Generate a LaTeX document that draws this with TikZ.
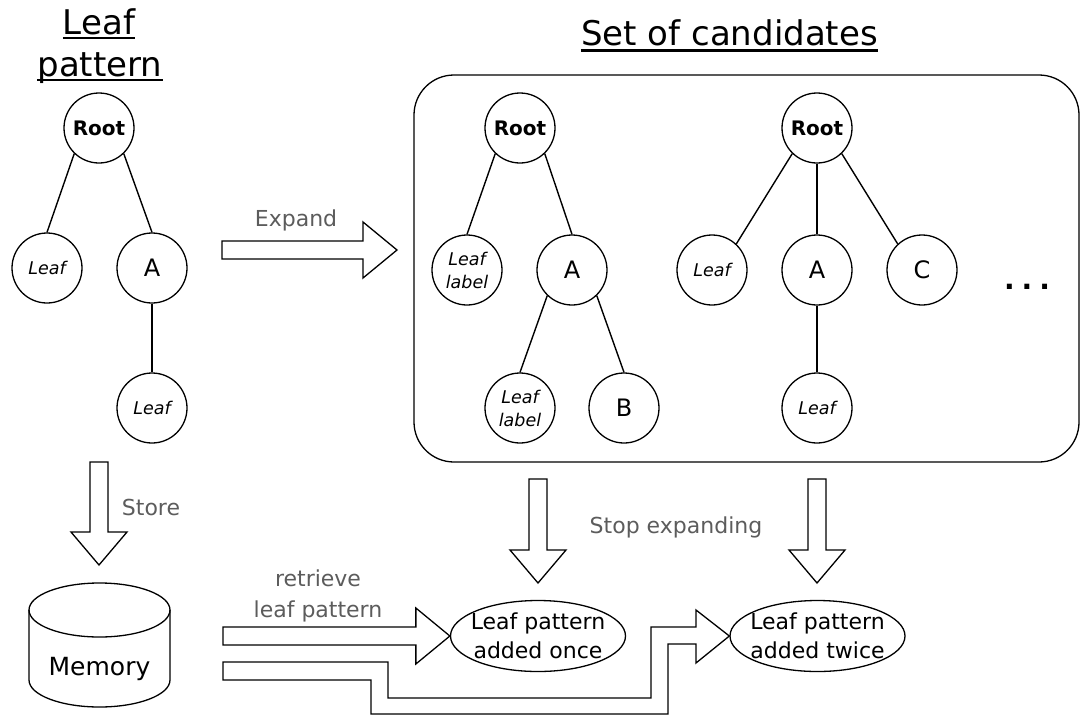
\documentclass[tikz,border=0pt]{standalone}
\usepackage{fontspec}
\setmainfont{DejaVu Sans}
\usetikzlibrary{shapes.geometric,calc}
\definecolor{labelgrey}{RGB}{92,92,92}

\tikzset{
  tnode/.style={circle, draw, line width=1.3pt, minimum size=70pt, inner sep=0pt, align=center},
  rootnode/.style={tnode, font=\fontsize{20}{24}\selectfont\bfseries},
  letternode/.style={tnode, font=\fontsize{24}{28}\selectfont},
  leafnode/.style={tnode, font=\fontsize{17.5}{23}\selectfont\itshape},
  treeedge/.style={line width=1.4pt},
  blk/.style={draw, line width=1.3pt, fill=white, line join=miter},
  lbl/.style={text=labelgrey, font=\fontsize{22}{31}\selectfont, inner sep=0pt, align=center},
  titletext/.style={font=\fontsize{34}{42}\selectfont, inner sep=0pt, anchor=base},
  uline/.style={line width=2.4pt},
  outcome/.style={ellipse, draw, line width=1.3pt, minimum width=175pt, minimum height=71pt,
    inner xsep=-7pt, inner ysep=0pt, align=center, font=\fontsize{22}{29}\selectfont},
}

% block arrow pointing right: #1 tail centre, #2 tip
\newcommand\rightblock[2]{%
  \draw[blk] ($(#1)+(0,-9)$) -- ($(#2)+(-34,-9)$) -- ($(#2)+(-34,-28)$) -- (#2)
    -- ($(#2)+(-34,28)$) -- ($(#2)+(-34,9)$) -- ($(#1)+(0,9)$) -- cycle;}
% block arrow pointing down: #1 tail centre, #2 tip
\newcommand\downblock[2]{%
  \draw[blk] ($(#1)+(-9,0)$) -- ($(#2)+(-9,-33)$) -- ($(#2)+(-28,-33)$) -- (#2)
    -- ($(#2)+(28,-33)$) -- ($(#2)+(9,-33)$) -- ($(#1)+(9,0)$) -- cycle;}

\begin{document}
\begin{tikzpicture}[x=1pt, y=-1pt]
\useasboundingbox (0,0) rectangle (1081,715);

% ---------- titles ----------
\node[titletext] (tleaf) at (99,34) {Leaf};
\node[titletext] (tpat) at (100,76) {pattern};
\node[titletext] (tset) at (729.5,45.5) {Set of candidates};
\draw[uline] ($(tleaf.base west)+(0,4)$) -- ($(tleaf.base east)+(0,4)$);
\draw[uline] ($(tpat.base west)+(0,4)$) -- ($(tpat.base east)+(0,4)$);
\draw[uline] ($(tset.base west)+(0,5)$) -- ($(tset.base east)+(0,5)$);

% ---------- leaf pattern tree ----------
\node[rootnode] (pr) at (99,128) {Root};
\node[leafnode] (pl) at (47,268) {Leaf};
\node[letternode] (pa) at (152,268) {A};
\node[leafnode] (pl2) at (152,408) {Leaf};
\draw[treeedge] (pr.226) -- (pl.north);
\draw[treeedge] (pr.314) -- (pa.north);
\draw[treeedge] (pa.south) -- (pl2.north);

% ---------- set of candidates ----------
\node[draw, line width=1.3pt, rounded corners=40pt, minimum width=665pt, minimum height=387pt,
  inner sep=0pt] (cands) at (746.5,268.5) {};

% first candidate
\node[rootnode] (ar) at (520,128) {Root};
\node[leafnode] (al) at (467,270) {Leaf\\label};
\node[letternode] (aa) at (572,270) {A};
\node[leafnode] (al2) at (520,408) {Leaf\\label};
\node[letternode] (ab) at (624,408) {B};
\draw[treeedge] (ar.226) -- (al.north);
\draw[treeedge] (ar.314) -- (aa.north);
\draw[treeedge] (aa.226) -- (al2.north);
\draw[treeedge] (aa.314) -- (ab.north);

% second candidate
\node[rootnode] (br) at (817,128) {Root};
\node[leafnode] (bl) at (712,270) {Leaf};
\node[letternode] (ba) at (817,270) {A};
\node[letternode] (bc) at (922,270) {C};
\node[leafnode] (bl2) at (817,408) {Leaf};
\draw[treeedge] (br.226) -- (bl.47);
\draw[treeedge] (br.south) -- (ba.north);
\draw[treeedge] (br.314) -- (bc.133);
\draw[treeedge] (ba.south) -- (bl2.north);

\node[font=\fontsize{28}{28}\selectfont\bfseries, inner sep=0pt, anchor=base] (more)
  at (1027,289) {.\kern7pt.\kern7pt.};

% ---------- expand ----------
\coordinate (expT) at (222,250);
\coordinate (expH) at (397,250);
\rightblock{expT}{expH}
\node[lbl, anchor=base] (expL) at (296,226) {Expand};

% ---------- store ----------
\coordinate (stoT) at (99,462);
\coordinate (stoH) at (99,565);
\downblock{stoT}{stoH}
\node[lbl, anchor=base] (stoL) at (151,515) {Store};

% ---------- memory ----------
\draw[line width=1.3pt, fill=white] (29,610) -- (29,680) arc[start angle=180, end angle=360, x radius=70.5, y radius=-27]
  -- (170,610);
\draw[line width=1.3pt] (99.5,610) ellipse[x radius=70.5, y radius=27];
\node[font=\fontsize{25}{30}\selectfont, inner sep=0pt, anchor=base] (mem) at (99.5,675) {Memory};

% ---------- stop expanding ----------
\coordinate (s1T) at (538,479);
\coordinate (s1H) at (538,583);
\coordinate (s2T) at (817,479);
\coordinate (s2H) at (817,583);
\downblock{s1T}{s1H}
\downblock{s2T}{s2H}
\node[lbl, anchor=base] (stopL) at (676,533) {Stop expanding};

% ---------- outcomes ----------
\node[outcome] (once) at (538,636) {Leaf pattern\\added once};
\node[outcome] (twice) at (817.5,636) {Leaf pattern\\added twice};

% retrieve arrow
\coordinate (retT) at (223,636);
\rightblock{retT}{once.west}
\node[lbl] (retL) at (318,596) {retrieve\\leaf pattern};

% stepped arrow to the second outcome
\draw[blk] (223,662) -- (388,662) -- (388,698) -- (651,698) -- (651,627) -- (696,627) -- (696,610)
  -- (twice.west) -- (696,663) -- (696,644) -- (668,644) -- (668,714) -- (371,714) -- (371,680)
  -- (223,680) -- cycle;
\end{tikzpicture}
\end{document}
